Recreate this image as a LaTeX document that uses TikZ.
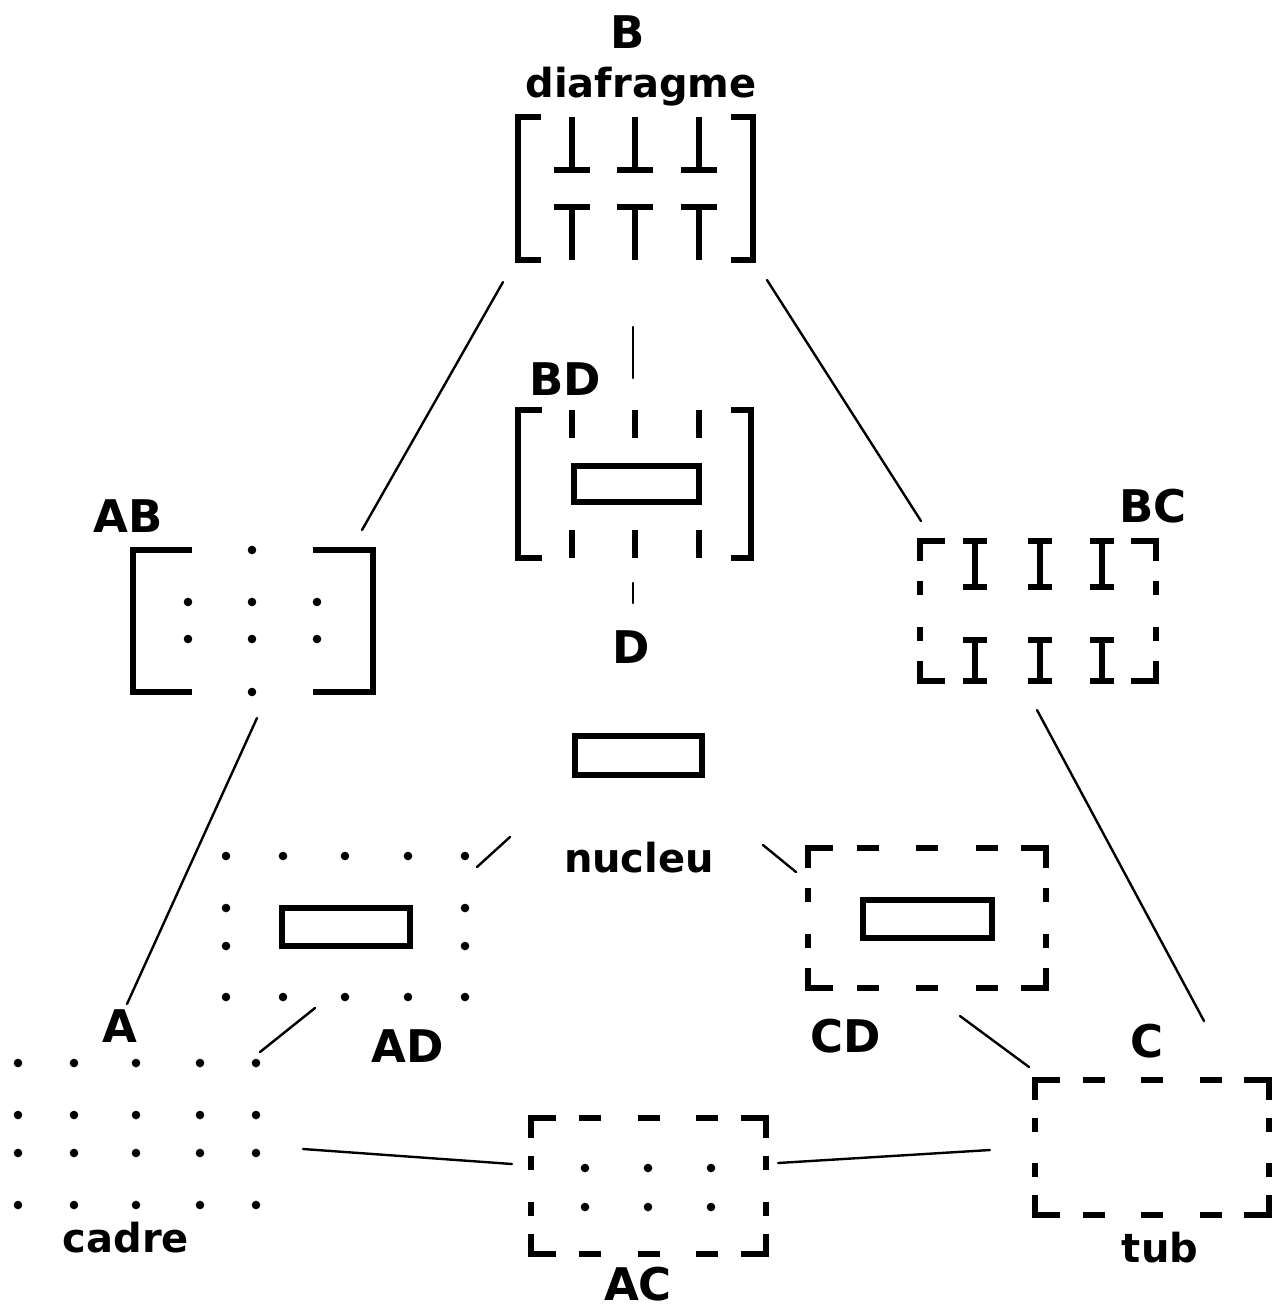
\documentclass[tikz,border=0pt]{standalone}
\usepackage{fontspec}
\setmainfont{DejaVu Sans}
\tikzset{
  caplabel/.style={inner sep=0pt, anchor=base, font=\fontsize{45}{48}\selectfont\bfseries},
  wordlabel/.style={inner sep=0pt, anchor=base, font=\fontsize{40}{44}\selectfont\bfseries},
  heavy/.style={line width=6.5pt, line join=miter, line cap=butt},
  stem/.style={line width=5.5pt, line cap=butt},
  link/.style={line width=2.4pt, line cap=round},
  dot/.style={fill=black}
}
% dashed frame: corners with arms, two dashes on each side, three on top/bottom if #5=1
\newcommand\dashframe[5]{%
  \pgfmathsetmacro\myfw{#3-#1}%
  \pgfmathsetmacro\myfh{#4-#2}%
  \draw[heavy] (#1+25,#2) -- (#1,#2) -- (#1,#2+20);
  \draw[heavy] (#3-25,#2) -- (#3,#2) -- (#3,#2+20);
  \draw[heavy] (#1+25,#4) -- (#1,#4) -- (#1,#4-20);
  \draw[heavy] (#3-25,#4) -- (#3,#4) -- (#3,#4-20);
  \foreach \k in {1,2}{%
    \draw[heavy] (#1,{#2+\k*\myfh/3-7}) -- ++(0,14);
    \draw[heavy] (#3,{#2+\k*\myfh/3-7}) -- ++(0,14);
  }%
  \ifnum#5=1
    \foreach \k in {1,2,3}{%
      \draw[heavy] ({#1+\k*\myfw/4-11},#2) -- ++(22,0);
      \draw[heavy] ({#1+\k*\myfw/4-11},#4) -- ++(22,0);
    }%
  \fi
}
\newcommand\bigdot[2]{\fill[dot] (#1,#2) circle[radius=4.3pt];}
\begin{document}
\begin{tikzpicture}[x=1pt,y=-1pt]
\fill[white] (0,0) rectangle (1274,1307);
\useasboundingbox (0,0) rectangle (1274,1307);

% ---------- B : diafragme ----------
\node[caplabel] (labB) at (628,48) {B};
\node[wordlabel] (wordB) at (641,97) {diafragme};
\draw[heavy] (541,117) -- (518,117) -- (518,260) -- (541,260);
\draw[heavy] (731,117) -- (753,117) -- (753,260) -- (731,260);
\foreach \cx in {572,635,699}{
  \draw[stem] (\cx,117) -- (\cx,170);
  \draw[heavy] (\cx-18,170) -- (\cx+18,170);
  \draw[heavy] (\cx-18,207) -- (\cx+18,207);
  \draw[stem] (\cx,207) -- (\cx,260);
}
\coordinate (Bsw) at (503,282);
\coordinate (Bse) at (767,280);
\coordinate (Bs) at (633,327);

% ---------- BD ----------
\node[caplabel] (labBD) at (565,395) {BD};
\coordinate (BDn) at (633,378);
\coordinate (BDs) at (633,583);
\draw[heavy] (542,410) -- (518,410) -- (518,558) -- (542,558);
\draw[heavy] (731,410) -- (751,410) -- (751,558) -- (731,558);
\foreach \cx in {572,635,699}{
  \draw[stem] (\cx,410) -- (\cx,438);
  \draw[stem] (\cx,530) -- (\cx,558);
}
\draw[heavy] (574,466) rectangle (699,502);

% ---------- D : nucleu ----------
\node[caplabel] (labD) at (631,663) {D};
\coordinate (Dn) at (633,603);
\draw[heavy] (575,736) rectangle (702,775);
\node[wordlabel] (wordD) at (639,872) {nucleu};
\coordinate (Dsw) at (510,837);
\coordinate (Dse) at (763,845);

% ---------- AB ----------
\node[caplabel] (labAB) at (128,532) {AB};
\draw[heavy] (192,550) -- (133,550) -- (133,692) -- (192,692);
\draw[heavy] (313,550) -- (373,550) -- (373,692) -- (313,692);
\foreach \cy in {550,602,639,692}{\bigdot{252}{\cy}}
\foreach \cx in {188,317}{\bigdot{\cx}{602}\bigdot{\cx}{639}}
\coordinate (ABn) at (362,530);
\coordinate (ABs) at (257,718);

% ---------- BC ----------
\node[caplabel] (labBC) at (1153,522) {BC};
\dashframe{920}{541}{1156}{681}{0}
\foreach \cx in {975,1040,1102}{
  \draw[heavy] (\cx-12,541) -- (\cx+12,541);
  \draw[stem] (\cx,541) -- (\cx,587);
  \draw[heavy] (\cx-12,587) -- (\cx+12,587);
  \draw[heavy] (\cx-12,640) -- (\cx+12,640);
  \draw[stem] (\cx,640) -- (\cx,681);
  \draw[heavy] (\cx-12,681) -- (\cx+12,681);
}
\coordinate (BCn) at (921,521);
\coordinate (BCs) at (1037,710);

% ---------- AD ----------
\foreach \cx in {226,283,345,408,465}{\bigdot{\cx}{856}\bigdot{\cx}{997}}
\foreach \cx in {226,465}{\bigdot{\cx}{908}\bigdot{\cx}{946}}
\draw[heavy] (282,908) rectangle (410,946);
\node[caplabel] (labAD) at (408,1062) {AD};
\coordinate (ADne) at (477,867);
\coordinate (ADsw) at (315,1008);

% ---------- CD ----------
\dashframe{808}{848}{1046}{988}{1}
\draw[heavy] (863,900) rectangle (992,938);
\node[caplabel] (labCD) at (846,1052) {CD};
\coordinate (CDnw) at (796,872);
\coordinate (CDse) at (960,1016);

% ---------- A : cadre ----------
\node[caplabel] (labA) at (120,1042) {A};
\foreach \cx in {18,74,136,200,256}{
  \foreach \cy in {1063,1115,1153,1205}{\bigdot{\cx}{\cy}}
}
\node[wordlabel] (wordA) at (126,1252) {cadre};
\coordinate (An) at (127,1004);
\coordinate (Ane) at (260,1052);
\coordinate (Ae) at (303,1149);

% ---------- AC ----------
\dashframe{531}{1118}{766}{1254}{1}
\foreach \cx in {585,648,711}{\bigdot{\cx}{1168}\bigdot{\cx}{1207}}
\node[caplabel] (labAC) at (638,1300) {AC};
\coordinate (ACw) at (512,1164);
\coordinate (ACe) at (778,1163);

% ---------- C : tub ----------
\node[caplabel] (labC) at (1147,1057) {C};
\dashframe{1035}{1080}{1269}{1215}{1}
\node[wordlabel] (wordC) at (1160,1262) {tub};
\coordinate (Cn) at (1204,1021);
\coordinate (Cnw) at (1029,1067);
\coordinate (Cw) at (990,1150);

% ---------- connectors ----------
\draw[link] (Bsw) -- (ABn);
\draw[link] (Bse) -- (BCn);
\draw[link] (Bs) -- (BDn);
\draw[link] (BDs) -- (Dn);
\draw[link] (ABs) -- (An);
\draw[link] (BCs) -- (Cn);
\draw[link] (Dsw) -- (ADne);
\draw[link] (Dse) -- (CDnw);
\draw[link] (ADsw) -- (Ane);
\draw[link] (CDse) -- (Cnw);
\draw[link] (Ae) -- (ACw);
\draw[link] (ACe) -- (Cw);
\end{tikzpicture}
\end{document}
